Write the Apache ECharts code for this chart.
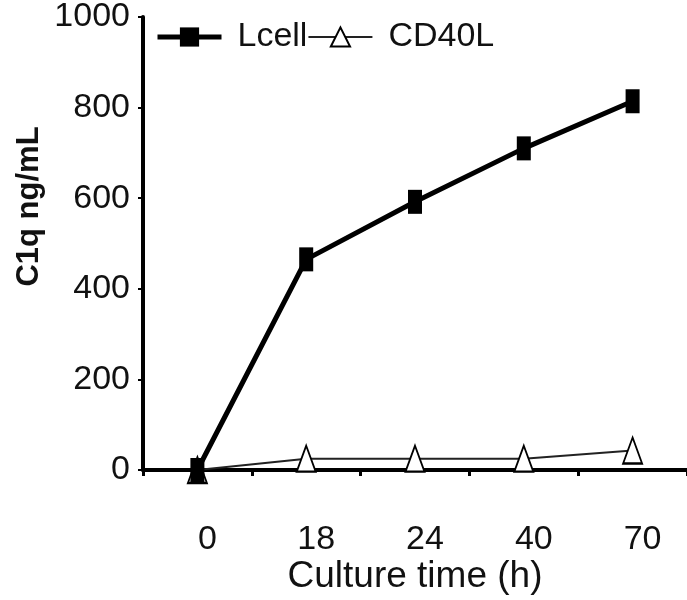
<!DOCTYPE html>
<html>
<head>
<meta charset="utf-8">
<script src="https://cdn.jsdelivr.net/npm/echarts@6/dist/echarts.min.js"></script>
<style>
html,body{margin:0;padding:0;background:#fff;}
#chart{width:687px;height:600px;}
</style>
</head>
<body>
<div id="chart"></div>
<script>
const categories = ['0', '18', '24', '40', '70'];
const lcell = [0, 465, 592, 710, 814];
const cd40l = [0, 25, 25, 25, 43];
const seriesNames = ['Lcell', 'CD40L'];
const xTitle = 'Culture time (h)';
const yTitle = 'C1q ng/mL';

const FONT = 'Liberation Sans, Arial, sans-serif';
const chart = echarts.init(document.getElementById('chart'), null, {renderer: 'canvas'});
chart.setOption({
  animation: false,
  backgroundColor: '#fff',
  grid: {left: 143, right: -11, top: 12, bottom: 127, containLabel: false},
  legend: {
    data: [
      {name: seriesNames[0], lineStyle: {width: 5, color: '#000'}},
      {name: seriesNames[1], lineStyle: {width: 2, color: '#222'}}
    ],
    left: 155, top: 20, padding: 0,
    itemWidth: 64, itemHeight: 24, itemGap: 0,
    textStyle: {fontFamily: FONT, fontSize: 34, color: '#111', padding: [0, 0, 0, 11]}
  },
  xAxis: {
    type: 'category',
    data: categories,
    boundaryGap: true,
    name: xTitle,
    nameLocation: 'middle',
    nameGap: 88,
    nameMoveOverlap: false,
    nameTextStyle: {fontFamily: FONT, fontSize: 37, color: '#111'},
    axisLine: {lineStyle: {color: '#000', width: 4}},
    axisTick: {show: true, length: 6, lineStyle: {color: '#000', width: 3}},
    axisLabel: {fontFamily: FONT, fontSize: 34, color: '#111', margin: 53, padding: [0, 0, 0, 20]},
    splitLine: {show: false}
  },
  yAxis: {
    type: 'value',
    min: 0, max: 1000, interval: 200,
    name: yTitle,
    nameLocation: 'middle',
    nameGap: 98,
    nameMoveOverlap: false,
    nameTextStyle: {fontFamily: FONT, fontSize: 31, fontWeight: 'bold', color: '#111', padding: [0, 0, 0, 74]},
    axisLine: {show: true, lineStyle: {color: '#000', width: 4}},
    axisTick: {show: true, length: 5, lineStyle: {color: '#000', width: 2}},
    axisLabel: {fontFamily: FONT, fontSize: 34, color: '#111', margin: 13, formatter: function (v) { return String(v); }},
    splitLine: {show: false}
  },
  series: [
    {
      name: seriesNames[0], type: 'line', data: lcell, z: 4, clip: false,
      symbol: 'rect', symbolSize: [14, 24],
      lineStyle: {color: '#000', width: 5},
      itemStyle: {color: '#000'}
    },
    {
      name: seriesNames[1], type: 'line', data: cd40l, z: 3, clip: false,
      symbol: 'triangle', symbolSize: [19, 26],
      lineStyle: {color: '#222', width: 2},
      itemStyle: {color: '#fff', borderColor: '#000', borderWidth: 2}
    }
  ]
});
</script>
</body>
</html>
